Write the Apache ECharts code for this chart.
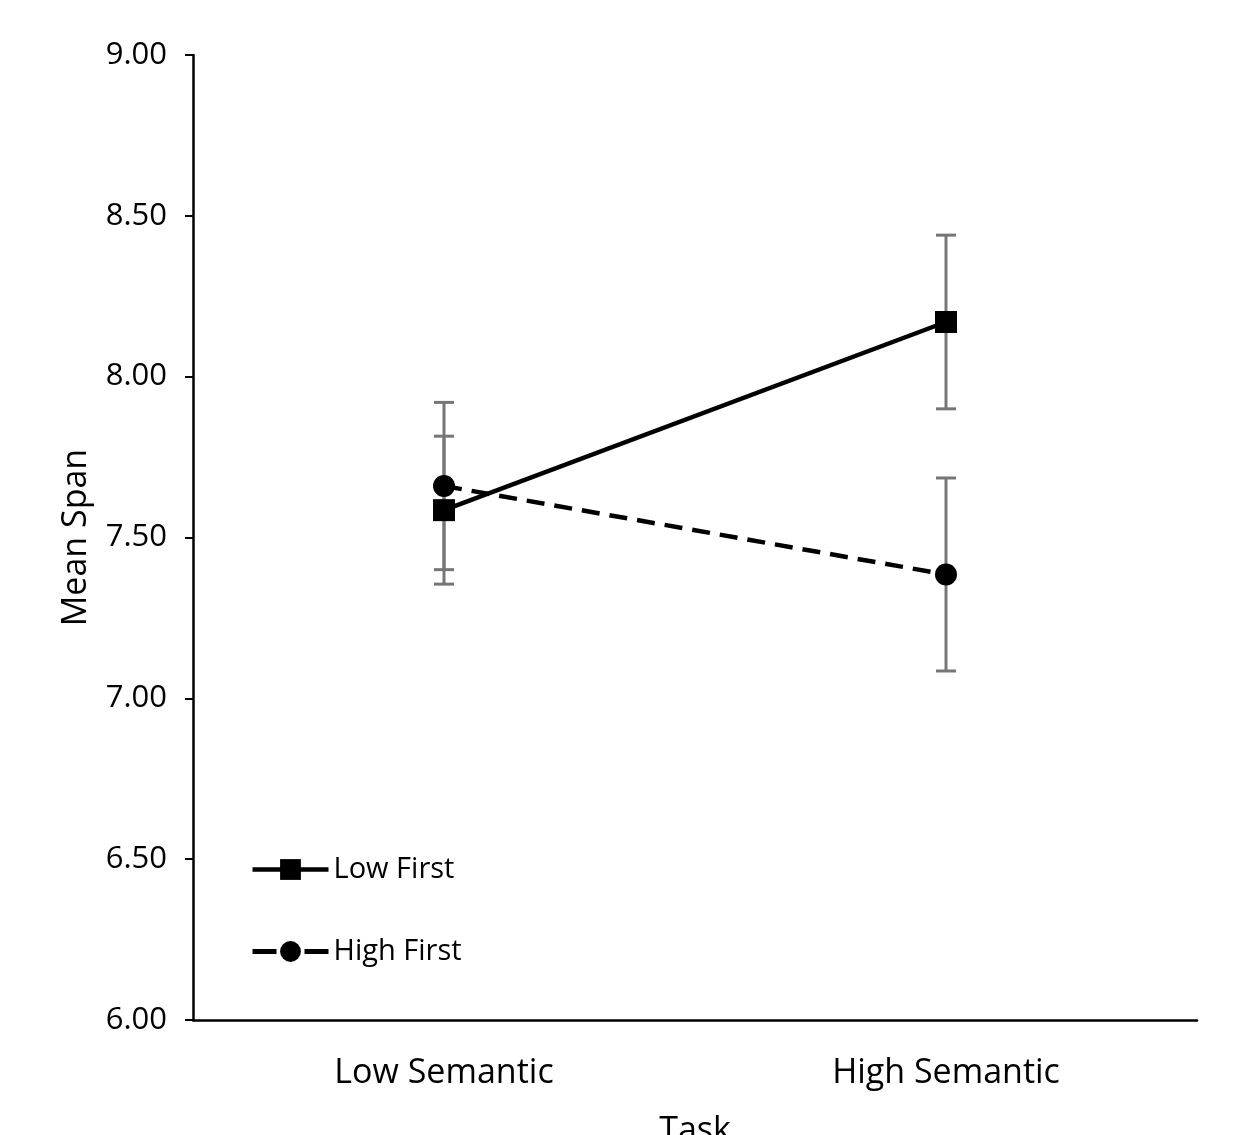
<!DOCTYPE html>
<html>
<head>
<meta charset="utf-8">
<script src="https://cdn.jsdelivr.net/npm/echarts@6/dist/echarts.min.js"></script>
<style>
  html, body { margin: 0; padding: 0; background: #fff; }
  #main { width: 1242px; height: 1135px; }
</style>
</head>
<body>
<div id="main"></div>
<script>
// 数据
var categories = ['Low Semantic', 'High Semantic'];
var lowFirst = [7.585, 8.17];
var lowFirstErr = [0.23, 0.27];
var highFirst = [7.66, 7.385];
var highFirstErr = [0.26, 0.30];
var yTicks = [6, 6.5, 7, 7.5, 8, 8.5, 9];

var myChart = echarts.init(document.getElementById('main'));

function errData(vals, errs) {
    return vals.map(function (v, i) {
        return [i, v - errs[i], v + errs[i]];
    });
}

function renderErr(params, api) {
    var lo = api.coord([api.value(0), api.value(1)]);
    var hi = api.coord([api.value(0), api.value(2)]);
    var cap = 10;
    var style = { stroke: '#767676', lineWidth: 3 };
    return {
        type: 'group',
        children: [
            { type: 'line', shape: { x1: hi[0], y1: hi[1], x2: lo[0], y2: lo[1] }, style: style },
            { type: 'line', shape: { x1: hi[0] - cap, y1: hi[1], x2: hi[0] + cap, y2: hi[1] }, style: style },
            { type: 'line', shape: { x1: lo[0] - cap, y1: lo[1], x2: lo[0] + cap, y2: lo[1] }, style: style }
        ]
    };
}

var font = 'Open Sans';

var option = {
    animation: false,
    backgroundColor: '#fff',
    textStyle: { fontFamily: font },
    grid: { left: 193, right: 45, top: 55, bottom: 115, outerBoundsMode: 'none' },
    legend: {
        orient: 'vertical',
        left: 245,
        top: 850,
        itemWidth: 76,
        itemHeight: 26,
        itemGap: 53,
        lineStyle: { width: 4.5 },
        textStyle: { fontFamily: font, fontSize: 29, color: '#000' },
        data: [
            { name: 'Low First' },
            { name: 'High First', lineStyle: { type: [24, 28], width: 5 } }
        ]
    },
    xAxis: {
        type: 'category',
        data: categories,
        name: 'Task',
        nameLocation: 'middle',
        nameGap: 94,
        nameTextStyle: { fontSize: 34, color: '#000' },
        axisLine: { lineStyle: { color: '#000', width: 2.5 } },
        axisTick: { show: false },
        axisLabel: { fontSize: 34, color: '#000', margin: 36 },
        splitLine: { show: false }
    },
    yAxis: {
        type: 'value',
        min: yTicks[0],
        max: yTicks[yTicks.length - 1],
        interval: 0.5,
        name: 'Mean Span',
        nameLocation: 'middle',
        nameGap: 100,
        nameTextStyle: { fontSize: 34, color: '#000' },
        axisLine: { show: true, lineStyle: { color: '#000', width: 2.5 } },
        axisTick: { show: true, length: 8, lineStyle: { color: '#000', width: 2 } },
        axisLabel: {
            fontSize: 31,
            color: '#000',
            margin: 26,
            formatter: function (v) { return v.toFixed(2); }
        },
        splitLine: { show: false }
    },
    series: [
        {
            type: 'custom',
            name: 'errLow',
            renderItem: renderErr,
            data: errData(lowFirst, lowFirstErr),
            z: 1,
            silent: true
        },
        {
            type: 'custom',
            name: 'errHigh',
            renderItem: renderErr,
            data: errData(highFirst, highFirstErr),
            z: 1,
            silent: true
        },
        {
            name: 'High First',
            type: 'line',
            data: highFirst,
            symbol: 'circle',
            symbolSize: 22,
            itemStyle: { color: '#000' },
            lineStyle: { color: '#000', width: 4.5, type: [18, 10] },
            z: 3
        },
        {
            name: 'Low First',
            type: 'line',
            data: lowFirst,
            symbol: 'rect',
            symbolSize: 22,
            itemStyle: { color: '#000' },
            lineStyle: { color: '#000', width: 4.5 },
            z: 4
        }
    ]
};

myChart.setOption(option);
</script>
</body>
</html>
